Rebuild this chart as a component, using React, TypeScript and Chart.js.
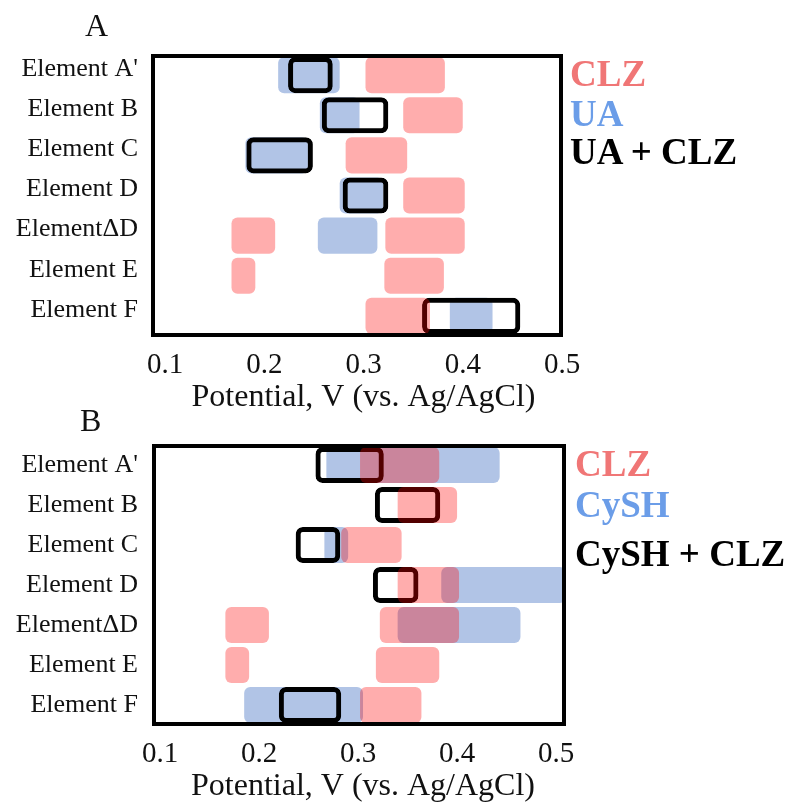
import React, { useEffect, useRef } from "react";
import { Chart, registerables } from "chart.js";

Chart.register(...registerables);

// ---------- data ----------
const CATEGORIES = ["Element A'", "Element B", "Element C", "Element D", "ElementΔD", "Element E", "Element F"];
const X_TICKS = [0.1, 0.2, 0.3, 0.4, 0.5];
const X_TITLE = "Potential, V (vs. Ag/AgCl)";

type Range = [number, number] | null;

// Panel A
const A_CLZ: Range[] = [[0.302, 0.382], [0.340, 0.400], [0.282, 0.344], [0.340, 0.402], [0.322, 0.402], [0.321, 0.381], [0.302, 0.367]];
const A_CLZ_LOW: Range[] = [null, null, null, null, [0.167, 0.211], [0.167, 0.191], null];
const A_UA: Range[] = [[0.214, 0.276], [0.256, 0.296], [0.181, 0.244], [0.276, 0.320], [0.254, 0.314], null, [0.387, 0.430]];
const A_UA_CLZ: Range[] = [[0.224, 0.269], [0.258, 0.325], [0.182, 0.249], [0.279, 0.325], null, null, [0.359, 0.458]];
const A_LEGEND = ["CLZ", "UA", "UA + CLZ"];

// Panel B
const B_CLZ: Range[] = [[0.302, 0.382], [0.340, 0.400], [0.283, 0.344], [0.340, 0.402], [0.322, 0.402], [0.318, 0.382], [0.302, 0.364]];
const B_CLZ_LOW: Range[] = [null, null, null, null, [0.166, 0.210], [0.166, 0.190], null];
const B_CYSH: Range[] = [[0.268, 0.443], null, [0.266, 0.290], [0.384, 0.510], [0.340, 0.464], null, [0.185, 0.305]];
const B_CYSH_CLZ: Range[] = [[0.257, 0.326], [0.317, 0.383], [0.237, 0.282], [0.315, 0.361], null, null, [0.220, 0.283]];
const B_LEGEND = ["CLZ", "CySH", "CySH + CLZ"];

// ---------- styles ----------
const FONT = "'Liberation Serif', 'Times New Roman', serif";
const PINK = "rgba(255,0,0,0.32)";
const BLUE = "rgba(68,114,196,0.42)";
const PINK_TEXT = "#f07676";
const BLUE_TEXT = "#6b9de8";

type PanelLayout = {
  top: number;
  height: number;
  areaLeft: number;
  areaRight: number;
  areaTop: number;
  areaBottom: number;
  boxLeft: number;
  boxRight: number;
  xMax: number;
  yPad: number;
  yLabelOffset: number;
};

const LAYOUT_A: PanelLayout = {
  top: 0, height: 420, areaLeft: 165, areaRight: 562, areaTop: 55, areaBottom: 336,
  boxLeft: 151, boxRight: 563, xMax: 0.5, yPad: 27, yLabelOffset: -6,
};
const LAYOUT_B: PanelLayout = {
  top: 395, height: 414, areaLeft: 160, areaRight: 566, areaTop: 50, areaBottom: 330,
  boxLeft: 152, boxRight: 566, xMax: 0.51, yPad: 22, yLabelOffset: 0,
};

function Panel(props: {
  layout: PanelLayout;
  clz: Range[];
  clzLow: Range[];
  other: Range[];
  combo: Range[];
  names: string[];
}) {
  const ref = useRef<HTMLCanvasElement>(null);
  const { layout } = props;
  useEffect(() => {
    if (!ref.current) return;
    const L = layout;
    const boxPlugin = {
      id: "plotBox",
      afterDatasetsDraw(chart: any) {
        const { ctx, chartArea } = chart;
        const lw = 4;
        const top = chartArea.top - 1;
        const bottom = chartArea.bottom + 1;
        ctx.save();
        ctx.strokeStyle = "#000";
        ctx.lineWidth = lw;
        ctx.strokeRect(
          L.boxLeft + lw / 2,
          top + lw / 2,
          L.boxRight - L.boxLeft - lw,
          bottom - top - lw
        );
        ctx.restore();
      },
    };
    const fill = (label: string, data: Range[], color: string, order: number) => ({
      label,
      data: data as any,
      backgroundColor: color,
      borderWidth: 0,
      borderRadius: 6,
      borderSkipped: false,
      order,
    });
    const chart = new Chart(ref.current, {
      type: "bar",
      data: {
        labels: CATEGORIES,
        datasets: [
          fill(props.names[0], props.clz, PINK, 0),
          fill(props.names[0] + " (low)", props.clzLow, PINK, 0),
          {
            label: props.names[2],
            data: props.combo as any,
            backgroundColor: "rgba(0,0,0,0)",
            borderColor: "#000",
            borderWidth: 5,
            borderRadius: 7,
            borderSkipped: false,
            order: 1,
          },
          fill(props.names[1], props.other, BLUE, 2),
        ] as any,
      },
      options: {
        indexAxis: "y",
        responsive: false,
        maintainAspectRatio: false,
        animation: false,
        devicePixelRatio: 1,
        layout: {
          padding: { top: L.areaTop, right: 796 - L.areaRight, left: 0, bottom: 0 },
        },
        datasets: {
          bar: { grouped: false, barPercentage: 0.9, categoryPercentage: 1 },
        },
        plugins: {
          legend: { display: false },
          tooltip: { enabled: false },
          title: { display: false },
        },
        scales: {
          x: {
            type: "linear",
            position: "bottom",
            min: 0.1,
            max: L.xMax,
            grid: { display: false, drawTicks: false },
            border: { display: false },
            afterBuildTicks: (s: any) => {
              s.ticks = X_TICKS.map((v) => ({ value: v }));
            },
            afterFit: (s: any) => {
              s.height = L.height - L.areaBottom;
            },
            ticks: {
              padding: 12,
              color: "#111",
              autoSkip: false,
              maxRotation: 0,
              font: { family: FONT, size: 29 },
              callback: (v: any) => Number(v).toFixed(1),
            },
            title: {
              display: true,
              text: X_TITLE,
              color: "#111",
              font: { family: FONT, size: 32 },
              padding: { top: 0, bottom: 3 },
            },
          },
          y: {
            type: "category",
            grid: { display: false, drawTicks: false },
            border: { display: false },
            afterFit: (s: any) => {
              s.width = L.areaLeft;
            },
            ticks: {
              padding: L.yPad,
              color: "#111",
              autoSkip: false,
              labelOffset: L.yLabelOffset,
              font: { family: FONT, size: 26 },
            },
          },
        },
      } as any,
      plugins: [boxPlugin],
    });
    return () => chart.destroy();
  }, []);
  return (
    <canvas
      ref={ref}
      width={796}
      height={layout.height}
      style={{ position: "absolute", left: 0, top: layout.top, display: "block" }}
    />
  );
}

const legendStyle = (left: number, top: number, color: string): React.CSSProperties => ({
  position: "absolute",
  left,
  top,
  color,
  fontFamily: FONT,
  fontWeight: "bold",
  fontSize: 37,
  lineHeight: "40px",
  whiteSpace: "nowrap",
});

const letterStyle = (left: number, top: number): React.CSSProperties => ({
  position: "absolute",
  left,
  top,
  fontFamily: FONT,
  fontSize: 32,
  lineHeight: "32px",
  color: "#111",
});

export default function App() {
  return (
    <div style={{ position: "absolute", left: 0, top: 0, width: 796, height: 809, background: "#fff", overflow: "hidden" }}>
      <Panel layout={LAYOUT_A} clz={A_CLZ} clzLow={A_CLZ_LOW} other={A_UA} combo={A_UA_CLZ} names={A_LEGEND} />
      <Panel layout={LAYOUT_B} clz={B_CLZ} clzLow={B_CLZ_LOW} other={B_CYSH} combo={B_CYSH_CLZ} names={B_LEGEND} />
      <div style={letterStyle(85, 9)}>A</div>
      <div style={letterStyle(80, 404)}>B</div>
      <div style={legendStyle(570, 54, PINK_TEXT)}>{A_LEGEND[0]}</div>
      <div style={legendStyle(570, 94, BLUE_TEXT)}>{A_LEGEND[1]}</div>
      <div style={legendStyle(570, 132, "#000")}>{A_LEGEND[2]}</div>
      <div style={legendStyle(575, 444, PINK_TEXT)}>{B_LEGEND[0]}</div>
      <div style={legendStyle(575, 485, BLUE_TEXT)}>{B_LEGEND[1]}</div>
      <div style={legendStyle(575, 534, "#000")}>{B_LEGEND[2]}</div>
    </div>
  );
}
